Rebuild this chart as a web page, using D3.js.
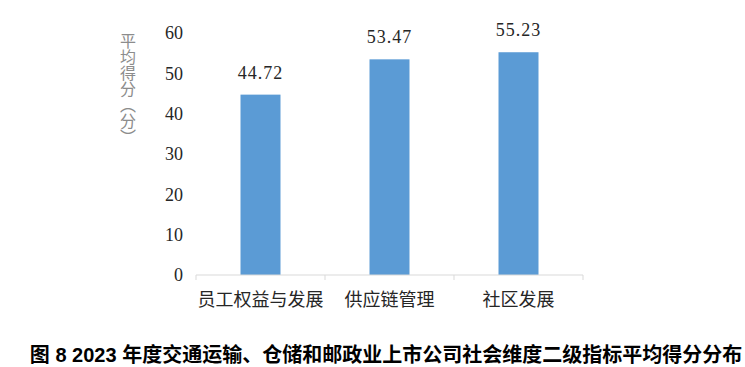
<!DOCTYPE html>
<html>
<head>
<meta charset="utf-8">
<script src="https://cdn.jsdelivr.net/npm/d3@7"></script>
<style>
  body { margin: 0; background: #fff; }
</style>
</head>
<body>
<div id="chart"></div>
<script>
// 数据
const categories = ["员工权益与发展", "供应链管理", "社区发展"];
const values = [44.72, 53.47, 55.23];
const yTicks = [0, 10, 20, 30, 40, 50, 60];

const W = 745, H = 367;
const margin = { left: 196, right: 162, top: 33, bottom: 92 };
const width = W - margin.left - margin.right;
const height = H - margin.top - margin.bottom;

const svg = d3.select("#chart")
    .append("svg")
    .attr("width", W)
    .attr("height", H);

const g = svg.append("g")
    .attr("transform", `translate(${margin.left},${margin.top})`);

// 比例尺
const x = d3.scaleBand()
    .domain(categories)
    .range([0, width])
    .paddingInner(0.69)
    .paddingOuter(0.345);

const y = d3.scaleLinear()
    .domain([0, 60])
    .range([height, 0]);

// 柱子
g.selectAll(".bar")
    .data(values)
    .enter().append("rect")
    .attr("class", "bar")
    .attr("x", (d, i) => x(categories[i]))
    .attr("y", d => y(d))
    .attr("width", x.bandwidth())
    .attr("height", d => height - y(d))
    .attr("fill", "#5b9bd5");

// 数值标签
g.selectAll(".val")
    .data(values)
    .enter().append("text")
    .attr("x", (d, i) => x(categories[i]) + x.bandwidth() / 2)
    .attr("y", d => y(d) - 16)
    .attr("text-anchor", "middle")
    .style("font-family", "'Liberation Serif', serif")
    .style("font-size", "18px")
    .style("letter-spacing", "1px")
    .attr("fill", "#262626")
    .text(d => d.toFixed(2));

// X 轴
const xAxis = g.append("g")
    .attr("transform", `translate(0,${height})`);
xAxis.append("line")
    .attr("x1", 0).attr("x2", width)
    .attr("stroke", "#d9d9d9");
const bounds = [0].concat(categories.map(c => x(c) + x.bandwidth() + x.step() * x.paddingInner() / 2));
bounds[bounds.length - 1] = width;
xAxis.selectAll(".tk")
    .data(bounds)
    .enter().append("line")
    .attr("x1", d => d).attr("x2", d => d)
    .attr("y1", 0).attr("y2", 5)
    .attr("stroke", "#d9d9d9");
xAxis.selectAll(".cat")
    .data(categories)
    .enter().append("text")
    .attr("x", d => x(d) + x.bandwidth() / 2)
    .attr("y", 31)
    .attr("text-anchor", "middle")
    .style("font-family", "'Noto Sans CJK SC', sans-serif")
    .style("font-size", "18px")
    .attr("fill", "#262626")
    .text(d => d);

// Y 轴刻度
g.append("g")
    .call(d3.axisLeft(y).tickValues(yTicks).tickSize(0).tickPadding(13))
    .call(s => s.select(".domain").remove())
    .selectAll("text")
    .style("font-family", "'Liberation Serif', serif")
    .style("font-size", "18px")
    .attr("fill", "#262626");

// Y 轴标题（竖排）
svg.append("text")
    .attr("x", 128)
    .attr("y", 33)
    .style("writing-mode", "vertical-rl")
    .style("font-family", "'Noto Sans CJK SC', sans-serif")
    .style("font-size", "16px")
    .attr("fill", "#8c8c8c")
    .text("平均得分（分）");

// 标题
svg.append("text")
    .attr("x", 386)
    .attr("y", 362)
    .attr("text-anchor", "middle")
    .style("font-family", "'Liberation Sans', 'Noto Sans CJK SC', sans-serif")
    .style("font-size", "20px")
    .style("font-weight", "bold")
    .attr("fill", "#000")
    .text("图 8 2023 年度交通运输、仓储和邮政业上市公司社会维度二级指标平均得分分布");
</script>
</body>
</html>
